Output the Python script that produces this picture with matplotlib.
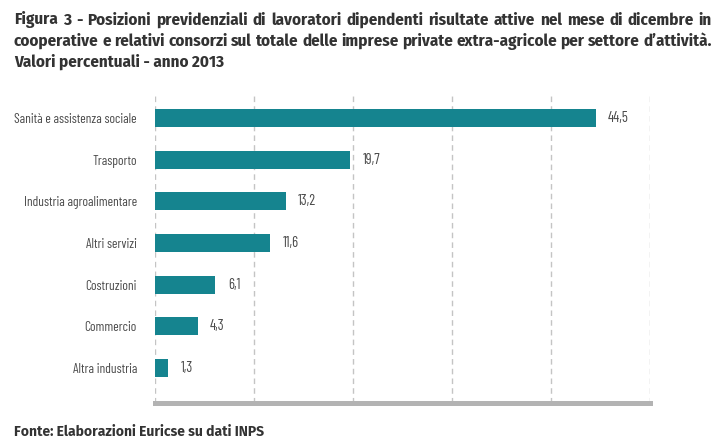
import matplotlib
matplotlib.use("Agg")
import matplotlib.pyplot as plt
import numpy as np

# ── data ──────────────────────────────────────────────────────────────────────
categories = [
    "Sanità e assistenza sociale",
    "Trasporto",
    "Industria agroalimentare",
    "Altri servizi",
    "Costruzioni",
    "Commercio",
    "Altra industria",
]
values = [44.5, 19.7, 13.2, 11.6, 6.1, 4.3, 1.3]
value_labels = ["44,5", "19,7", "13,2", "11,6", "6,1", "4,3", "1,3"]

title_lines = [
    "Figura 3 - Posizioni previdenziali di lavoratori dipendenti risultate attive nel mese di dicembre in",
    "cooperative e relativi consorzi sul totale delle imprese private extra-agricole per settore d\u2019attività.",
    "Valori percentuali - anno 2013",
]
source_text = "Fonte: Elaborazioni Euricse su dati INPS"

bar_color = "#15848f"
text_color = "#4a4a4a"
label_font = ["Barlow Condensed", "DejaVu Sans"]
title_font = ["Fira Sans Condensed", "DejaVu Sans"]
source_font = ["Fira Sans", "DejaVu Sans"]

W, H = 726, 448
fig = plt.figure(figsize=(W / 100, H / 100), dpi=100)

# axes placed in pixel terms to match the reference
left_px, right_px, top_px, bottom_px = 155, 650, 95, 402.5
ax = fig.add_axes([left_px / W, 1 - bottom_px / H,
                   (right_px - left_px) / W, (bottom_px - top_px) / H])

y_pos = np.arange(len(categories))
ax.barh(y_pos, values, height=0.43, color=bar_color, zorder=3)

# y limits so bar centres fall at the same pixels as the reference
first_c, step = 118, 41.67
ax.set_ylim((bottom_px - first_c) / step, (top_px - first_c) / step)
ax.set_xlim(0, 50)

for y, v, lab in zip(y_pos, values, value_labels):
    ax.annotate(lab, (v, y), xytext=(9, 0), textcoords="offset points",
                va="center", ha="left", fontsize=10.5, color=text_color,
                family=label_font)

ax.set_yticks(y_pos)
ax.set_yticklabels(categories, fontsize=9.7, color=text_color, family=label_font)
ax.tick_params(axis="y", length=0, pad=13)
ax.set_xticks([0, 10, 20, 30, 40, 50])
ax.tick_params(axis="x", length=0, labelbottom=False)

ax.grid(axis="x", color="#c4c4c4", linestyle=(0, (4, 3)), linewidth=1.0, zorder=0)
ax.grid(axis="y", visible=False)

for s in ["top", "right", "left"]:
    ax.spines[s].set_visible(False)
ax.spines["bottom"].set_color("#b3b3b3")
ax.spines["bottom"].set_linewidth(3.6)
ax.spines["bottom"].set_zorder(4)

# title: first two lines justified between x=14 and x=712 like the reference
renderer = fig.canvas.get_renderer()
x0, x1 = 14, 712
title_size = 12.2
for i, line in enumerate(title_lines):
    ypix = 1 - (20 + i * 21) / H
    if i == len(title_lines) - 1:
        fig.text(x0 / W, ypix, line, fontsize=title_size, fontweight="bold",
                 color="#333333", va="center", ha="left", family=title_font)
        continue
    words = line.split(" ")
    texts = [fig.text(0, ypix, w, fontsize=title_size, fontweight="bold", color="#333333",
                      va="center", ha="left", family=title_font) for w in words]
    widths = [t.get_window_extent(renderer).width for t in texts]
    gap = (x1 - x0 - sum(widths)) / (len(words) - 1)
    x = x0
    for t, wd in zip(texts, widths):
        t.set_x(x / W)
        x += wd + gap

fig.text(14 / W, 1 - 432 / H, source_text, fontsize=10, fontweight="bold",
         color="#333333", va="center", ha="left", family=source_font)

fig.savefig("out.png", dpi=100)
